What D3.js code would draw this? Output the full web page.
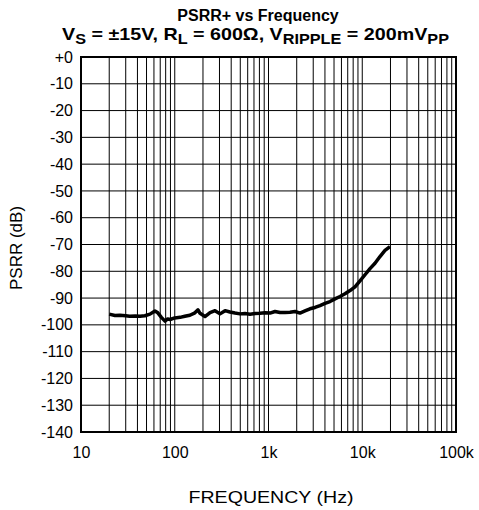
<!DOCTYPE html>
<html><head><meta charset="utf-8">
<script src="https://cdn.jsdelivr.net/npm/d3@7/dist/d3.min.js"></script>
<style>body{margin:0;background:#fff;} text{font-family:"Liberation Sans",Arial,sans-serif;}</style>
</head><body>
<svg id="c" width="479" height="510"></svg>
<script>
// Data
const freqHz = [20,23,26,30,33,38,42.6,48,54.4,61.5,66,72,78.7,84,89,100,114,128,145,164,177,186,210,238,269,304,344,388,439,497,561,635,718,811,918,1038,1173,1327,1500,1695,1917,2167,2450,2772,3133,3542,4005,4528,5120,5790,6546,7401,8368,9461,10698,12095,13675,15462,17480,19766];
const psrrDb = [-96.0,-96.5,-96.4,-96.6,-96.8,-96.7,-96.8,-96.6,-96.0,-94.8,-95.5,-97.2,-98.6,-97.8,-98.0,-97.4,-97.2,-96.8,-96.4,-95.5,-94.4,-95.7,-96.9,-95.4,-94.7,-95.9,-94.7,-95.2,-95.6,-95.9,-95.8,-96.0,-95.8,-95.7,-95.5,-95.6,-95.0,-95.4,-95.4,-95.3,-95.0,-95.6,-94.8,-94.0,-93.5,-92.8,-92.0,-91.3,-90.3,-89.4,-88.4,-87.2,-85.8,-83.6,-81.3,-79.0,-77.0,-74.5,-72.2,-70.8];
const xTickVals = [10,100,1000,10000,100000];
const xTickLabels = ["10","100","1k","10k","100k"];
const yTickVals = [0,-10,-20,-30,-40,-50,-60,-70,-80,-90,-100,-110,-120,-130,-140];
const yTickLabels = ["+0","-10","-20","-30","-40","-50","-60","-70","-80","-90","-100","-110","-120","-130","-140"];
const minorFreqs = [];
for (let d = 10; d < 100000; d *= 10) for (let m = 2; m <= 9; m++) minorFreqs.push(d*m);

const svg = d3.select("#c");
const L = 81, R = 456, T = 57, B = 432;
const x = d3.scaleLog().domain([10,100000]).range([L,R]);
const y = d3.scaleLinear().domain([-140,0]).range([B,T]);
const FF = "'Liberation Sans',Arial,sans-serif";

// grid
const g = svg.append("g");
g.selectAll(".vx").data(minorFreqs.concat(xTickVals.slice(1,-1))).enter().append("line")
  .attr("x1",d=>x(d)).attr("x2",d=>x(d)).attr("y1",T).attr("y2",B)
  .attr("stroke","#000").attr("stroke-width",1);
g.selectAll(".hy").data(yTickVals.slice(1,-1)).enter().append("line")
  .attr("x1",L).attr("x2",R).attr("y1",d=>y(d)).attr("y2",d=>y(d))
  .attr("stroke","#000").attr("stroke-width",1);
svg.append("rect").attr("x",L).attr("y",T).attr("width",R-L).attr("height",B-T)
  .attr("fill","none").attr("stroke","#000").attr("stroke-width",2);

// axes labels
const yAxis = d3.axisLeft(y).tickValues(yTickVals).tickFormat((d,i)=>yTickLabels[i]).tickSize(0).tickPadding(8);
const ya = svg.append("g").attr("transform",`translate(${L},0)`).call(yAxis);
ya.select(".domain").remove();
ya.selectAll("text").attr("font-size",16).attr("fill","#000").style("font-family",FF);
const xAxis = d3.axisBottom(x).tickValues(xTickVals).tickFormat((d,i)=>xTickLabels[i]).tickSize(0).tickPadding(15);
const xa = svg.append("g").attr("transform",`translate(0,${B})`).call(xAxis);
xa.select(".domain").remove();
xa.selectAll("text").attr("font-size",16).attr("fill","#000").style("font-family",FF);

// line
const pts = freqHz.map((f,i)=>[f,psrrDb[i]]);
svg.append("path").datum(pts)
  .attr("d", d3.line().x(d=>x(d[0])).y(d=>y(d[1])))
  .attr("fill","none").attr("stroke","#000").attr("stroke-width",3.5).attr("stroke-linejoin","round");

// titles
svg.append("text").attr("x",258).attr("y",21).attr("text-anchor","middle")
  .attr("font-size",16).attr("font-weight","bold").text("PSRR+ vs Frequency");
const t2 = svg.append("text").attr("x",62).attr("y",40)
  .attr("font-size",17).attr("font-weight","bold").attr("textLength",387).attr("lengthAdjust","spacingAndGlyphs");
const parts = [["V",0],["S",1],[" = ±15V, R",0],["L",1],[" = 600Ω, V",0],["RIPPLE",1],[" = 200mV",0],["PP",1]];
let prevSub = 0;
parts.forEach(([s,sub])=>{
  const dy = sub - prevSub;
  t2.append("tspan").attr("dy", dy ? (dy>0? 4 : -4) : 0).attr("font-size", sub?14:17).text(s);
  prevSub = sub;
});
svg.append("text").attr("x",271).attr("y",503).attr("text-anchor","middle").attr("font-size",16)
  .attr("textLength",165).attr("lengthAdjust","spacingAndGlyphs").text("FREQUENCY (Hz)");
svg.append("text").attr("transform","translate(22,248) rotate(-90)").attr("text-anchor","middle").attr("font-size",17).text("PSRR (dB)");
</script>
</body></html>
